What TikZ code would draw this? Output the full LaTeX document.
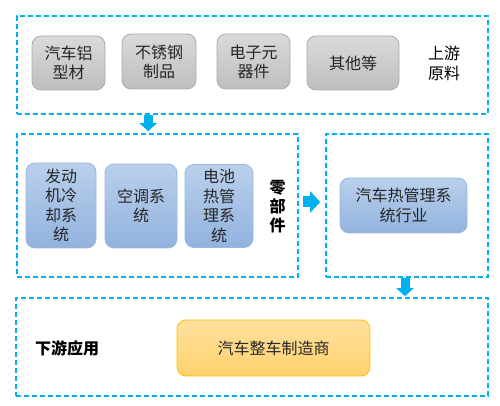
\documentclass[tikz,border=0pt]{standalone}
\usepackage{fontspec}
\setmainfont{Noto Sans CJK SC}
\usetikzlibrary{arrows.meta,calc}
\definecolor{cyanline}{HTML}{00B0F0}
\definecolor{grayT}{HTML}{DADADA}
\definecolor{grayB}{HTML}{BEBEBE}
\definecolor{grayD}{HTML}{ABABAB}
\definecolor{blueT}{HTML}{BAD0EC}
\definecolor{blueB}{HTML}{92B2DE}
\definecolor{blueD}{HTML}{9AB8E0}
\definecolor{orT}{HTML}{FFE0A0}
\definecolor{orB}{HTML}{FFD26C}
\definecolor{orD}{HTML}{FFC000}
\definecolor{txt}{HTML}{262626}
\begin{document}
\begin{tikzpicture}[x=1pt,y=1pt,
  frame/.style={draw=cyanline,line width=1.6pt,dash pattern=on 5pt off 3pt,inner sep=0pt},
  graybox/.style={draw=grayD,line width=0.8pt,rounded corners=9pt,top color=grayT,bottom color=grayB,text=txt,align=center,font=\fontsize{16}{19}\selectfont,inner sep=0pt},
  bluebox/.style={draw=blueD,line width=0.8pt,rounded corners=9pt,top color=blueT,bottom color=blueB,text=txt,align=center,font=\fontsize{16}{19.5}\selectfont,inner sep=0pt},
  orbox/.style={draw=orD,line width=0.8pt,rounded corners=9pt,top color=orT,bottom color=orB,text=txt,align=center,font=\fontsize{16}{19}\selectfont,inner sep=0pt},
  label/.style={text=black,align=center,font=\fontsize{16}{20}\selectfont,inner sep=0pt},
  blabel/.style={text=black,align=center,font=\bfseries\fontsize{16}{19}\selectfont,inner sep=0pt},
  blockarrow/.style={draw=cyanline,line width=9pt,-{Triangle[length=8pt,width=17pt]}},
  blockarrowR/.style={draw=cyanline,line width=11pt,-{Triangle[length=10pt,width=21pt]}}
]
\useasboundingbox (0,0) rectangle (500,406);
% frames
\node[frame,minimum width=471pt,minimum height=98pt] (upF) at (252.5,341) {};
\node[frame,minimum width=281pt,minimum height=143pt] (midL) at (157.5,200.5) {};
\node[frame,minimum width=162pt,minimum height=143pt] (midR) at (407,200.5) {};
\node[frame,minimum width=472pt,minimum height=98pt] (lowF) at (252,59) {};
% top row
\node[graybox,minimum width=73pt,minimum height=54pt] (g1) at (68.5,343) {汽车铝\\型材};
\node[graybox,minimum width=74pt,minimum height=55pt] (g2) at (159,344.5) {不锈钢\\制品};
\node[graybox,minimum width=73pt,minimum height=55pt] (g3) at (253.5,344.5) {电子元\\器件};
\node[graybox,minimum width=92pt,minimum height=54pt] (g4) at (353,343) {其他等};
\node[label] (upL) at (444,342.5) {上游\\原料};
% middle
\node[bluebox,minimum width=70pt,minimum height=85pt] (b1) at (61,200.5) {发动\\机冷\\却系\\统};
\node[bluebox,minimum width=72pt,minimum height=84pt] (b2) at (141,200) {空调系\\统};
\node[bluebox,minimum width=68pt,minimum height=83pt] (b3) at (219,200) {电池\\热管\\理系\\统};
\node[blabel] (midLab) at (277.5,199) {零\\部\\件};
\node[bluebox,minimum width=127pt,minimum height=55pt] (b4) at (403.5,200.5) {汽车热管理系\\统行业};
% bottom
\node[blabel] (lowLab) at (67,58) {下游应用};
\node[orbox,minimum width=193pt,minimum height=56pt] (o1) at (273.5,58) {汽车整车制造商};
% arrows
\draw[blockarrow] ([xshift=132pt]upF.south west) -- ([xshift=132pt,yshift=2pt]midL.north west);
\draw[blockarrowR,shorten <=4pt,shorten >=5pt] ([yshift=3.5pt]midL.east) -- ([yshift=3.5pt]midR.west);
\draw[blockarrow] ([xshift=-2pt]midR.south) -- ([xshift=-2pt,yshift=1pt]midR.south |- lowF.north);
\end{tikzpicture}
\end{document}
